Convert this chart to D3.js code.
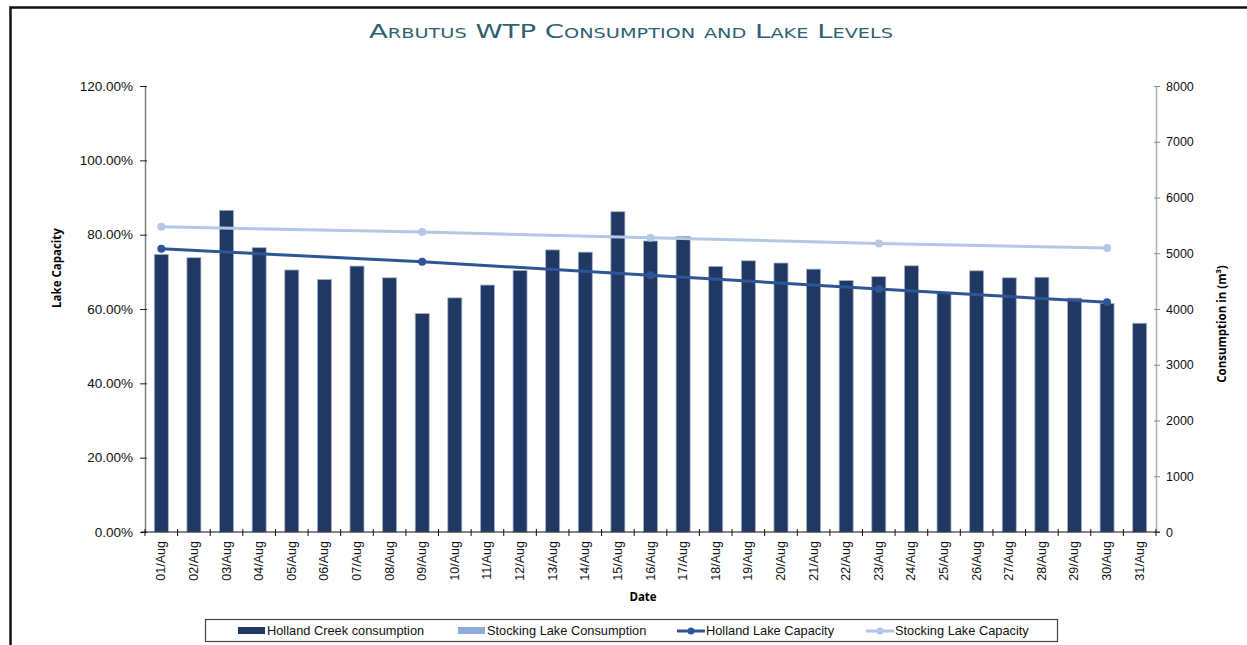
<!DOCTYPE html>
<html>
<head>
<meta charset="utf-8">
<script src="https://cdn.jsdelivr.net/npm/d3@7"></script>
<style>
  body { margin: 0; background: #fff; }
  svg { display: block; }
  text { font-family: "Liberation Sans", Arial, sans-serif; }
</style>
</head>
<body>
<div class="chart-container"></div>
<script>
const width = 1247;
const height = 645;

// data
const dates = ["01/Aug","02/Aug","03/Aug","04/Aug","05/Aug","06/Aug","07/Aug","08/Aug","09/Aug","10/Aug",
  "11/Aug","12/Aug","13/Aug","14/Aug","15/Aug","16/Aug","17/Aug","18/Aug","19/Aug","20/Aug",
  "21/Aug","22/Aug","23/Aug","24/Aug","25/Aug","26/Aug","27/Aug","28/Aug","29/Aug","30/Aug","31/Aug"];
const hollandConsumption = [4980, 4920, 5770, 5100, 4700, 4530, 4770, 4560, 3920, 4200,
  4430, 4690, 5060, 5020, 5745, 5220, 5300, 4765, 4865, 4825,
  4715, 4510, 4580, 4775, 4280, 4685, 4560, 4570, 4195, 4100, 3745];
// capacity readings only taken on some days
const capacityDates = ["01/Aug", "09/Aug", "16/Aug", "23/Aug", "30/Aug"];
const hollandCapacity = [0.762, 0.727, 0.691, 0.654, 0.618];
const stockingCapacity = [0.821, 0.807, 0.792, 0.776, 0.764];

const leftTicks = [0, 0.2, 0.4, 0.6, 0.8, 1.0, 1.2];
const rightTicks = [0, 1000, 2000, 3000, 4000, 5000, 6000, 7000, 8000];

const colors = {
  holland: "#203864",
  stockingCons: "#8faadc",
  hollandCap: "#2f5597",
  stockingCap: "#b4c7e7"
};

const plot = { left: 145, right: 1156, top: 86, bottom: 532 };

const svg = d3.select(".chart-container").append("svg")
  .attr("width", width)
  .attr("height", height);

// outer frame
svg.append("path")
  .attr("d", `M10.5,${height} V7.5 H${width}`)
  .attr("fill", "none")
  .attr("stroke", "#111")
  .attr("stroke-width", 2.5);

// title
svg.append("text")
  .attr("x", 631)
  .attr("y", 38)
  .attr("text-anchor", "middle")
  .attr("fill", "#2f6270")
  .style("font-family", "'DejaVu Sans', sans-serif")
  .style("font-variant", "small-caps")
  .style("font-size", "20px")
  .attr("textLength", 524)
  .attr("lengthAdjust", "spacingAndGlyphs")
  .text("Arbutus WTP Consumption and Lake Levels");

const x = d3.scaleBand()
  .domain(dates)
  .range([plot.left, plot.right])
  .padding(0);

const yLeft = d3.scaleLinear().domain([0, 1.2]).range([plot.bottom, plot.top]);
const yRight = d3.scaleLinear().domain([0, 8000]).range([plot.bottom, plot.top]);

// bars
const barW = x.step() * 0.43;
svg.append("g").selectAll("rect")
  .data(dates)
  .join("rect")
  .attr("x", d => x(d) + x.bandwidth() / 2 - barW / 2)
  .attr("y", (d, i) => yRight(hollandConsumption[i]))
  .attr("width", barW)
  .attr("height", (d, i) => yRight(0) - yRight(hollandConsumption[i]))
  .attr("fill", colors.holland)
  .attr("stroke", "#aab4c8")
  .attr("stroke-width", 0.8);

// capacity lines
function drawCapacity(values, color) {
  const pts = capacityDates.map((d, i) => [x(d) + x.bandwidth() / 2, yLeft(values[i])]);
  svg.append("path")
    .attr("d", d3.line()(pts))
    .attr("fill", "none")
    .attr("stroke", color)
    .attr("stroke-width", 3);
  svg.append("g").selectAll("circle")
    .data(pts)
    .join("circle")
    .attr("cx", d => d[0])
    .attr("cy", d => d[1])
    .attr("r", 4)
    .attr("fill", color);
}
drawCapacity(stockingCapacity, colors.stockingCap);
drawCapacity(hollandCapacity, colors.hollandCap);

// left axis
const leftAxis = svg.append("g")
  .attr("transform", `translate(${plot.left},0)`)
  .call(d3.axisLeft(yLeft).tickValues(leftTicks).tickFormat(d3.format(".2%")).tickSize(0).tickPadding(12));
leftAxis.select(".domain").attr("stroke", "#7f7f7f").attr("stroke-width", 1.5);
leftAxis.selectAll(".tick line").attr("x1", -5).attr("x2", 2).attr("stroke", "#222");
leftAxis.selectAll(".tick text").style("font-size", "13.5px").attr("fill", "#111");

// right axis
const rightAxis = svg.append("g")
  .attr("transform", `translate(${plot.right},0)`)
  .call(d3.axisRight(yRight).tickValues(rightTicks).tickFormat(d3.format("d")).tickSize(0).tickPadding(10));
rightAxis.select(".domain").attr("stroke", "#b0b0b0").attr("stroke-width", 1.5);
rightAxis.selectAll(".tick line").attr("x1", -2).attr("x2", 4).attr("stroke", "#888");
rightAxis.selectAll(".tick text").style("font-size", "12.5px").attr("fill", "#111");

// bottom axis
const bottom = svg.append("g").attr("transform", `translate(0,${plot.bottom})`);
bottom.append("line")
  .attr("x1", plot.left - 4).attr("x2", plot.right + 4)
  .attr("stroke", "#111").attr("stroke-width", 1.2);
bottom.selectAll("line.tick")
  .data(dates.concat(["end"]))
  .join("line")
  .attr("class", "tick")
  .attr("x1", d => d === "end" ? plot.right : x(d))
  .attr("x2", d => d === "end" ? plot.right : x(d))
  .attr("y1", -3).attr("y2", 4)
  .attr("stroke", "#111");
bottom.selectAll("text")
  .data(dates)
  .join("text")
  .attr("transform", d => `translate(${x(d) + x.bandwidth() / 2 + 4},9) rotate(-90)`)
  .attr("text-anchor", "end")
  .style("font-size", "12.5px")
  .attr("fill", "#111")
  .text(d => d);

// axis titles
svg.append("text")
  .attr("transform", "translate(61,268) rotate(-90)")
  .attr("text-anchor", "middle")
  .style("font-family", "'Open Sans', sans-serif")
  .style("font-weight", "bold")
  .style("font-size", "11.5px")
  .text("Lake Capacity");

svg.append("text")
  .attr("transform", "translate(1226,324) rotate(-90)")
  .attr("text-anchor", "middle")
  .style("font-family", "'Open Sans', sans-serif")
  .style("font-weight", "bold")
  .style("font-size", "11.5px")
  .text("Consumption in (m³)");

svg.append("text")
  .attr("x", 643)
  .attr("y", 601)
  .attr("text-anchor", "middle")
  .style("font-family", "'Open Sans', sans-serif")
  .style("font-weight", "bold")
  .style("font-size", "11.5px")
  .text("Date");

// legend
const legendItems = [
  { label: "Holland Creek consumption", color: colors.holland, type: "bar", x: 238 },
  { label: "Stocking Lake Consumption", color: colors.stockingCons, type: "bar", x: 458 },
  { label: "Holland Lake Capacity", color: colors.hollandCap, type: "line", x: 677 },
  { label: "Stocking Lake Capacity", color: colors.stockingCap, type: "line", x: 866 }
];
const legend = svg.append("g");
legend.append("rect")
  .attr("x", 205.5).attr("y", 619.5)
  .attr("width", 852).attr("height", 22)
  .attr("fill", "#fff")
  .attr("stroke", "#444")
  .attr("stroke-width", 1.2);
legendItems.forEach(item => {
  if (item.type === "bar") {
    legend.append("rect")
      .attr("x", item.x).attr("y", 627)
      .attr("width", 27).attr("height", 7)
      .attr("fill", item.color);
  } else {
    legend.append("line")
      .attr("x1", item.x).attr("x2", item.x + 28)
      .attr("y1", 631).attr("y2", 631)
      .attr("stroke", item.color).attr("stroke-width", 3);
    legend.append("circle")
      .attr("cx", item.x + 14).attr("cy", 631).attr("r", 3.5)
      .attr("fill", item.color);
  }
  legend.append("text")
    .attr("x", item.x + 29)
    .attr("y", 635)
    .style("font-size", "12.8px")
    .attr("fill", "#111")
    .text(item.label);
});
</script>
</body>
</html>
